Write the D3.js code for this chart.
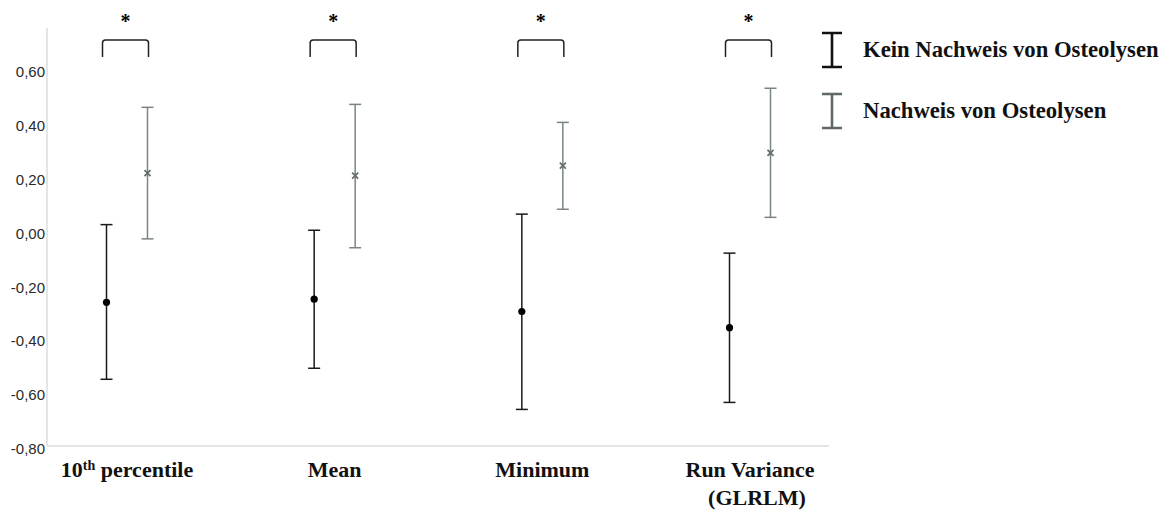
<!DOCTYPE html>
<html>
<head>
<meta charset="utf-8">
<script src="https://cdn.jsdelivr.net/npm/d3@7"></script>
<style>
  body { margin: 0; background: #fff; }
  svg { display: block; }
</style>
</head>
<body>
<div class="chart"></div>
<script>
// DATA
const categories = ["10th percentile", "Mean", "Minimum", "Run Variance (GLRLM)"];
const seriesNames = ["Kein Nachweis von Osteolysen", "Nachweis von Osteolysen"];

// no osteolysis (black)
const noMean  = [-0.266, -0.254, -0.300, -0.360];
const noLower = [-0.552, -0.511, -0.664, -0.638];
const noUpper = [ 0.023,  0.002,  0.062, -0.083];

// osteolysis (grey)
const yesMean  = [0.214, 0.205, 0.242, 0.290];
const yesLower = [-0.030, -0.063, 0.080, 0.050];
const yesUpper = [0.459, 0.470, 0.403, 0.530];

const yTicks = [-0.8, -0.6, -0.4, -0.2, 0.0, 0.2, 0.4, 0.6];
const significant = [true, true, true, true];

// GLOBAL CONSTANTS
const FRAME_WIDTH = 1168;
const FRAME_HEIGHT = 512;
const BLACK = "#1a1a1a";
const GREY = "#7b857f";
const LEGEND_GREY = "#5f6a62";

const FRAME = d3.select(".chart")
  .append("svg")
    .attr("width", FRAME_WIDTH)
    .attr("height", FRAME_HEIGHT);

const Y_SCALE = d3.scaleLinear()
  .domain([-0.8, 0.6])
  .range([446, 69.4]);

const X_SCALE = d3.scalePoint()
  .domain(categories)
  .range([127, 750]);

const OFFSET = 20.5;

const series = [
  {name: seriesNames[0], color: BLACK, dx: -OFFSET, mean: noMean, lo: noLower, hi: noUpper, marker: "dot"},
  {name: seriesNames[1], color: GREY, dx: OFFSET, mean: yesMean, lo: yesLower, hi: yesUpper, marker: "cross"}
];

// AXES (light grey frame lines)
const yTop = 28;
FRAME.append("line")
  .attr("x1", 47).attr("x2", 47)
  .attr("y1", yTop).attr("y2", Y_SCALE(-0.8))
  .attr("stroke", "#dcdcdc").attr("stroke-width", 1.5);
FRAME.append("line")
  .attr("x1", 47).attr("x2", 829)
  .attr("y1", Y_SCALE(-0.8)).attr("y2", Y_SCALE(-0.8))
  .attr("stroke", "#dcdcdc").attr("stroke-width", 1.5);

const yAxis = FRAME.append("g")
  .attr("transform", "translate(47,0)")
  .call(d3.axisLeft(Y_SCALE).tickValues(yTicks).tickSize(0).tickPadding(2)
    .tickFormat(d => d3.format(".2f")(d).replace(".", ",").replace("−", "-")));
yAxis.select(".domain").remove();
yAxis.selectAll("text")
  .attr("font-family", "Liberation Sans, Arial, sans-serif")
  .attr("font-size", "15px")
  .attr("fill", "#2a2a2a")
  .attr("dy", "0.5em");

// ERROR BARS
const CAP = 6;
series.forEach((s) => {
  const g = FRAME.append("g");
  const idx = d3.range(categories.length);
  const xp = (i) => X_SCALE(categories[i]) + s.dx;

  g.selectAll(".stem").data(idx).enter().append("line")
    .attr("x1", xp).attr("x2", xp)
    .attr("y1", i => Y_SCALE(s.hi[i])).attr("y2", i => Y_SCALE(s.lo[i]))
    .attr("stroke", s.color).attr("stroke-width", 1.5);

  ["hi", "lo"].forEach((k) => {
    g.selectAll(".cap-" + k).data(idx).enter().append("line")
      .attr("x1", i => xp(i) - CAP).attr("x2", i => xp(i) + CAP)
      .attr("y1", i => Y_SCALE(s[k][i])).attr("y2", i => Y_SCALE(s[k][i]))
      .attr("stroke", s.color).attr("stroke-width", 1.5);
  });

  if (s.marker === "dot") {
    g.selectAll(".pt").data(idx).enter().append("circle")
      .attr("cx", xp).attr("cy", i => Y_SCALE(s.mean[i]))
      .attr("r", 3.6).attr("fill", "#000");
  } else {
    g.selectAll(".pt").data(idx).enter().append("path")
      .attr("transform", i => "translate(" + xp(i) + "," + Y_SCALE(s.mean[i]) + ")")
      .attr("d", "M-3,-3L3,3M-3,3L3,-3")
      .attr("stroke", "#66706a").attr("stroke-width", 1.8).attr("fill", "none");
  }
});

// SIGNIFICANCE BRACKETS
const bracketTop = 40, bracketBottom = 57, r = 3;
categories.forEach((c, i) => {
  if (!significant[i]) return;
  const x1 = X_SCALE(c) - OFFSET - 4, x2 = X_SCALE(c) + OFFSET + 1;
  FRAME.append("path")
    .attr("d", `M${x1},${bracketBottom}L${x1},${bracketTop + r}Q${x1},${bracketTop} ${x1 + r},${bracketTop}` +
               `L${x2 - r},${bracketTop}Q${x2},${bracketTop} ${x2},${bracketTop + r}L${x2},${bracketBottom}`)
    .attr("fill", "none").attr("stroke", "#222").attr("stroke-width", 1.5);
  FRAME.append("text")
    .attr("x", (x1 + x2) / 2).attr("y", 28)
    .attr("text-anchor", "middle")
    .attr("font-family", "Liberation Serif, Times New Roman, serif")
    .attr("font-weight", "bold").attr("font-size", "20px")
    .text("*");
});

// CATEGORY LABELS
const labelFont = "Liberation Serif, Times New Roman, serif";
categories.forEach((c, i) => {
  const t = FRAME.append("text")
    .attr("x", X_SCALE(c)).attr("y", 477)
    .attr("text-anchor", "middle")
    .attr("font-family", labelFont).attr("font-weight", "bold").attr("font-size", "22px")
    .attr("fill", "#111");
  if (c === "10th percentile") {
    t.append("tspan").text("10");
    t.append("tspan").attr("font-size", "14px").attr("dy", "-7").text("th");
    t.append("tspan").attr("dy", "7").text(" percentile");
  } else if (c === "Run Variance (GLRLM)") {
    t.append("tspan").attr("x", X_SCALE(c)).text("Run Variance");
    t.append("tspan").attr("x", X_SCALE(c) + 7).attr("dy", 28).text("(GLRLM)");
  } else {
    t.text(c);
  }
});

// LEGEND
const legendY = [50, 111];
series.forEach((s, i) => {
  const cx = 832, cy = legendY[i];
  const col = i === 0 ? "#111" : LEGEND_GREY;
  FRAME.append("path")
    .attr("d", `M${cx - 10},${cy - 17}L${cx + 10},${cy - 17}M${cx},${cy - 17}L${cx},${cy + 17}M${cx - 10},${cy + 17}L${cx + 10},${cy + 17}`)
    .attr("stroke", col).attr("stroke-width", 2.6).attr("fill", "none");
  FRAME.append("text")
    .attr("x", 863).attr("y", cy + 6.5)
    .attr("font-family", labelFont).attr("font-weight", "bold").attr("font-size", "22.7px")
    .attr("fill", "#111")
    .text(s.name);
});
</script>
</body>
</html>
